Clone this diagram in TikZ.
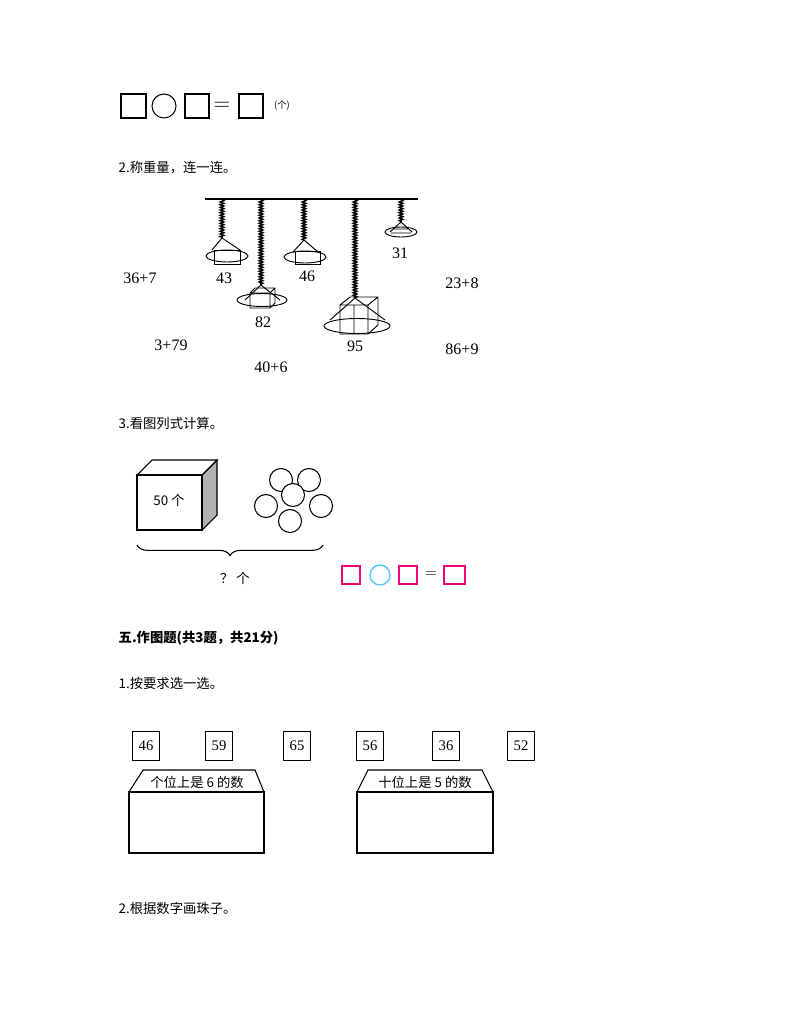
\documentclass[tikz,border=0pt]{standalone}
\usepackage{fontspec}
\setmainfont{Liberation Serif}
\newfontfamily\cjk{Noto Sans CJK SC}
\usetikzlibrary{decorations.pathmorphing,decorations.pathreplacing}
\begin{document}
\begin{tikzpicture}[x=0.75pt,y=-0.75pt,
  bx/.style={draw,line width=0.8pt},
  num/.style={font=\fontsize{12}{12}\selectfont},
  hd/.style={font=\cjk\fontsize{10}{10}\selectfont,anchor=west},
  spring/.style={line width=1.2pt,decorate,decoration={zigzag,amplitude=1.2pt,segment length=2pt}},
  pan/.style={draw,line width=0.7pt},
  pk/.style={draw=magenta!80!red,line width=1pt},
  nb/.style={draw,line width=0.8pt,minimum width=20pt,minimum height=22pt,inner sep=0pt,font=\fontsize{11}{11}\selectfont}]
\useasboundingbox (0,0) rectangle (794,1028);
% row 1
\draw[bx] (121,94) rectangle (146,118);
\draw[bx] (164,106) circle (12);
\draw[bx] (185,94) rectangle (209,118);
\node[font=\fontsize{16}{16}\selectfont] (eq1) at (222,106) {$=$};
\draw[bx] (239,94) rectangle (263,118);
\node[font=\cjk\fontsize{7}{7}\selectfont] (ge) at (282,105) {(个)};
\node[hd] (h2) at (114,168) {2.称重量，连一连。};
% scale
\draw[line width=2pt] (205,199) -- (418,199);
\foreach \x/\y in {222/238,261/285,304/240,355/298,401/222}
  \draw[spring] (\x,200) -- (\x,\y);
\foreach \cx/\cy/\w/\h in {227/256/42/8,262/300/50/9,305/257/42/8,357/326/66/11,401/232/32/6}{
  \draw[pan] (\cx,\cy) ellipse ({\w/2} and {\h/2+2});
}
% weights (simplified)
\draw[pan] (222,238) -- (212,250) (222,238) -- (240,250);
\draw[pan] (214,250) rectangle (240,264);
\draw[pan] (304,240) -- (293,252) (304,240) -- (318,252);
\draw[pan] (295,251) rectangle (320,264);
\draw[pan] (261,285) -- (245,300) (261,285) -- (280,300);
\draw[pan] (250,293) rectangle (270,308) (255,288)--(275,288)--(275,303)--(270,308) (250,293)--(255,288) (270,293)--(275,288);
\draw[pan] (355,298) -- (330,320) (355,298) -- (385,320);
\draw[pan] (340,305) rectangle (368,334) (340,305)--(350,297)--(378,297)--(378,325)--(368,334) (368,305)--(378,297) (354,305)--(354,334);
\draw[pan] (401,222) -- (390,232) (401,222) -- (412,232) (393,229)--(409,229) (391,233)--(411,233);
\node[num] (w43) at (224,278) {43};
\node[num] (w82) at (263,322) {82};
\node[num] (w46) at (307,276) {46};
\node[num] (w95) at (355,346) {95};
\node[num] (w31) at (400,253) {31};
\node[num] (e1) at (140,278) {36+7};
\node[num] (e2) at (462,283) {23+8};
\node[num] (e3) at (171,345) {3+79};
\node[num] (e4) at (462,349) {86+9};
\node[num] (e5) at (271,367) {40+6};
\node[hd] (h3) at (114,423) {3.看图列式计算。};
% cube
\draw[bx,fill=gray!60] (202,475) -- (217,460) -- (217,515) -- (202,530) -- cycle;
\draw[bx] (137,475) -- (152,460) -- (217,460) -- (202,475) -- cycle;
\draw[bx] (137,475) rectangle (202,530);
\node[font=\cjk\fontsize{10}{10}\selectfont] (c50) at (169,500) {50 个};
\foreach \x/\y in {281/480,309/480,266/506,293/495,321/506,290/521}
  \draw[bx,fill=white] (\x,\y) circle (11.5);
\draw[line width=0.8pt,decorate,decoration={brace,mirror,amplitude=8pt}] (137,545) -- (323,545);
\node[font=\cjk\fontsize{10}{10}\selectfont] (q) at (235,578) {？ 个};
\draw[pk] (342,566) rectangle (360,584);
\draw[draw=cyan!70,line width=1pt] (380,575) circle (10);
\draw[pk] (399,566) rectangle (417,584);
\node[font=\fontsize{12}{12}\selectfont] (eq2) at (431,575) {$=$};
\draw[pk] (444,566) rectangle (465,584);
\node[hd,font=\cjk\bfseries\fontsize{10}{10}\selectfont] (h5) at (114,638) {五.作图题(共3题，共21分)};
\node[hd] (h51) at (114,683) {1.按要求选一选。};
\foreach \x/\t in {146/46,219/59,297/65,370/56,446/36,521/52}
  \node[nb] (n\t) at (\x,746) {\t};
\draw[bx] (129,792) -- (143,770) -- (255,770) -- (264,792);
\draw[bx] (129,792) rectangle (264,853);
\node[font=\cjk\fontsize{10}{10}\selectfont] (l1) at (197,782) {个位上是 6 的数};
\draw[bx] (357,792) -- (368,770) -- (482,770) -- (493,792);
\draw[bx] (357,792) rectangle (493,853);
\node[font=\cjk\fontsize{10}{10}\selectfont] (l2) at (425,782) {十位上是 5 的数};
\node[hd] (h52) at (114,908) {2.根据数字画珠子。};
\end{tikzpicture}
\end{document}
